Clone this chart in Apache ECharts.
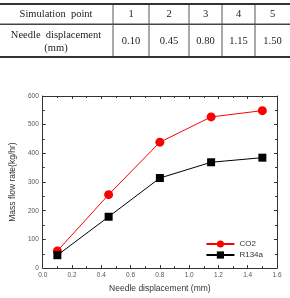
<!DOCTYPE html>
<html>
<head>
<meta charset="utf-8">
<script src="https://cdn.jsdelivr.net/npm/echarts@6/dist/echarts.min.js"></script>
<style>
  html, body { margin: 0; padding: 0; background: #fff; }
  #chart { width: 290px; height: 298px; }
</style>
</head>
<body>
<div id="chart"></div>
<script>
  // table data
  var simPoints = ['1', '2', '3', '4', '5']
  var needleDisp = ['0.10', '0.45', '0.80', '1.15', '1.50']

  // chart data
  var xValues = [0.10, 0.45, 0.80, 1.15, 1.50]
  var co2 = [60, 256, 439, 527, 549]
  var r134a = [45, 179, 314, 369, 385]

  var myChart = echarts.init(document.getElementById('chart'))

  // table layout
  var colLines = [113, 149, 189, 222, 255]
  var colCenters = [131, 169, 205.5, 238.5, 272.5]
  var serif = '"Liberation Serif", "DejaVu Serif", serif'
  var graphics = []
  graphics.push({ type: 'rect', shape: { x: 0, y: 3, width: 290, height: 2 }, style: { fill: '#333' } })
  graphics.push({ type: 'rect', shape: { x: 0, y: 23.5, width: 290, height: 1.5 }, style: { fill: '#444' } })
  graphics.push({ type: 'rect', shape: { x: 0, y: 56, width: 290, height: 2 }, style: { fill: '#333' } })
  colLines.forEach(function (x) {
    graphics.push({ type: 'line', shape: { x1: x, y1: 5, x2: x, y2: 56 }, style: { stroke: '#555', lineWidth: 1 } })
  })
  graphics.push({ type: 'text', style: { text: 'Simulation  point', x: 56, y: 14.5, align: 'center', verticalAlign: 'middle', font: '10.5px ' + serif, fill: '#222' } })
  graphics.push({ type: 'text', style: { text: 'Needle  displacement', x: 56, y: 35, align: 'center', verticalAlign: 'middle', font: '10.5px ' + serif, fill: '#222' } })
  graphics.push({ type: 'text', style: { text: '(mm)', x: 56, y: 48, align: 'center', verticalAlign: 'middle', font: '10.5px ' + serif, fill: '#222' } })
  simPoints.forEach(function (s, i) {
    graphics.push({ type: 'text', style: { text: s, x: colCenters[i], y: 14.5, align: 'center', verticalAlign: 'middle', font: '10.5px ' + serif, fill: '#222' } })
    graphics.push({ type: 'text', style: { text: needleDisp[i], x: colCenters[i], y: 41.5, align: 'center', verticalAlign: 'middle', font: '10.5px ' + serif, fill: '#222' } })
  })

  var axisLine = { show: true, onZero: false, lineStyle: { color: '#333', width: 1 } }
  var tick = { show: true, inside: true, length: 3, lineStyle: { color: '#333' } }
  var minor = { show: true, splitNumber: 2, length: 2, lineStyle: { color: '#333' } }

  var option = {
    animation: false,
    textStyle: { fontFamily: 'Arial, "Liberation Sans", sans-serif' },
    graphic: graphics,
    grid: { left: 39, right: 13, top: 96, bottom: 25 },
    legend: {
      orient: 'vertical',
      right: 22,
      top: 235,
      itemWidth: 28,
      itemHeight: 9,
      itemGap: 3,
      textStyle: { fontSize: 8, color: '#333' },
      data: ['CO2', 'R134a']
    },
    xAxis: [{
      type: 'value',
      min: 0,
      max: 1.6,
      interval: 0.2,
      name: 'Needle displacement (mm)',
      nameLocation: 'middle',
      nameGap: 15,
      nameTextStyle: { fontSize: 8.5, color: '#333' },
      axisLine: axisLine,
      axisTick: tick,
      minorTick: minor,
      splitLine: { show: false },
      axisLabel: { fontSize: 6.5, color: '#555', margin: 4, formatter: function (v) { return v.toFixed(1) } }
    }, {
      type: 'value',
      position: 'top',
      min: 0,
      max: 1.6,
      interval: 0.2,
      axisLine: axisLine,
      axisTick: tick,
      minorTick: minor,
      splitLine: { show: false },
      axisLabel: { show: false }
    }],
    yAxis: [{
      type: 'value',
      min: 0,
      max: 600,
      interval: 100,
      name: 'Mass flow rate(kg/hr)',
      nameLocation: 'middle',
      nameGap: 24,
      nameTextStyle: { fontSize: 8.5, color: '#333' },
      axisLine: axisLine,
      axisTick: tick,
      minorTick: minor,
      splitLine: { show: false },
      axisLabel: { fontSize: 6.5, color: '#555', margin: 4 }
    }, {
      type: 'value',
      position: 'right',
      min: 0,
      max: 600,
      interval: 100,
      axisLine: axisLine,
      axisTick: tick,
      minorTick: minor,
      splitLine: { show: false },
      axisLabel: { show: false }
    }],
    series: [{
      name: 'CO2',
      type: 'line',
      symbol: 'circle',
      symbolSize: 9,
      itemStyle: { color: '#ff0000' },
      lineStyle: { color: '#ff0000', width: 1 },
      data: xValues.map(function (x, i) { return [x, co2[i]] })
    }, {
      name: 'R134a',
      type: 'line',
      symbol: 'rect',
      symbolSize: 8,
      itemStyle: { color: '#000' },
      lineStyle: { color: '#000', width: 1 },
      data: xValues.map(function (x, i) { return [x, r134a[i]] })
    }]
  }
  myChart.setOption(option)
</script>
</body>
</html>
